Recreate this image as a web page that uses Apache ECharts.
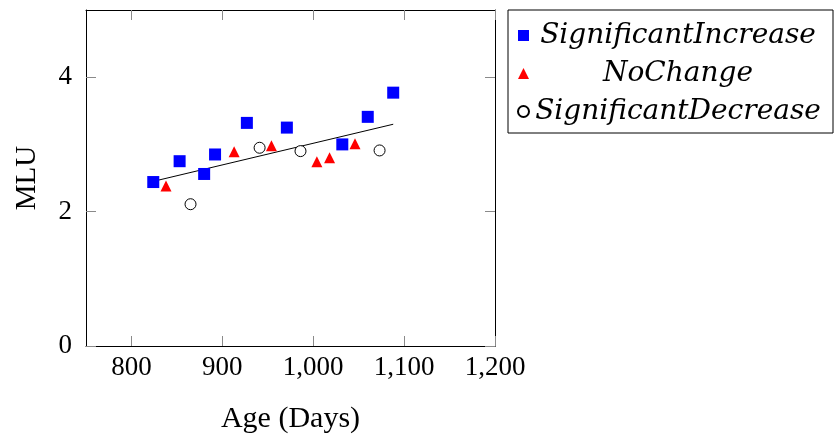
<!DOCTYPE html>
<html>
<head>
<meta charset="utf-8">
<script src="https://cdn.jsdelivr.net/npm/echarts@6/dist/echarts.min.js"></script>
<style>html,body{margin:0;padding:0;background:#fff}#c{width:836px;height:440px}</style>
</head>
<body>
<div id="c"></div>
<script>
const seriesNames = ['SignificantIncrease', 'NoChange', 'SignificantDecrease'];
const increaseData = [[824, 2.44], [853, 2.75], [880, 2.56], [892, 2.85], [927, 3.32], [971, 3.25], [1032, 3.00], [1060, 3.41], [1088, 3.77]];
const noChangeData = [[838, 2.38], [913, 2.89], [954, 2.98], [1004, 2.74], [1018, 2.80], [1046, 3.01]];
const decreaseData = [[865, 2.11], [941, 2.95], [986, 2.90], [1073, 2.91]];
const trendData = [[824, 2.45], [1088, 3.30]];
const xTicks = [800, 900, 1000, 1100, 1200];
const yTicks = [0, 2, 4];
const xName = 'Age (Days)';
const yName = 'MLU';

const font = '"Liberation Serif", serif';
const legendFont = 'DejaVu Serif';
const tickStyle = { show: true, inside: true, length: 10, lineStyle: { color: '#8a8a8a', width: 1 } };
const lineStyle = { show: true, onZero: false, lineStyle: { color: '#000', width: 1 } };

const chart = echarts.init(document.getElementById('c'), null, { renderer: 'canvas' });
chart.setOption({
  animation: false,
  backgroundColor: '#fff',
  grid: { left: 86, right: 341, top: 10, bottom: 94 },
  legend: {
    data: seriesNames,
    orient: 'vertical',
    left: 508,
    top: 10,
    padding: [10, 11, 6, 9],
    itemGap: 7,
    itemWidth: 11,
    itemHeight: 11,
    borderColor: '#000',
    borderWidth: 1,
    formatter: n => '{c|' + n + '}',
    textStyle: {
      fontFamily: legendFont, fontStyle: 'italic', fontSize: 28, lineHeight: 31, color: '#000',
      rich: { c: { width: 288, height: 31, align: 'center', fontFamily: legendFont, fontStyle: 'italic', fontSize: 28, lineHeight: 31, color: '#000' } }
    }
  },
  xAxis: [
    { type: 'value', min: 750, max: 1200, position: 'bottom', name: xName, nameLocation: 'middle', nameGap: 58,
      nameTextStyle: { fontFamily: font, fontSize: 30, color: '#000' },
      axisLine: lineStyle, splitLine: { show: false },
      axisTick: Object.assign({ customValues: xTicks }, tickStyle),
      axisLabel: { customValues: xTicks, margin: 8, fontFamily: font, fontSize: 27, color: '#000', formatter: v => v.toLocaleString('en-US') } },
    { type: 'value', min: 750, max: 1200, position: 'top',
      axisLine: lineStyle, splitLine: { show: false },
      axisTick: Object.assign({ customValues: xTicks }, tickStyle),
      axisLabel: { show: false } }
  ],
  yAxis: [
    { type: 'value', min: 0, max: 5, position: 'left', name: yName, nameLocation: 'middle', nameGap: 44,
      nameTextStyle: { fontFamily: font, fontSize: 29, color: '#000' },
      axisLine: lineStyle, splitLine: { show: false },
      axisTick: Object.assign({ customValues: yTicks }, tickStyle),
      axisLabel: { customValues: yTicks, margin: 14, fontFamily: font, fontSize: 27, color: '#000' } },
    { type: 'value', min: 0, max: 5, position: 'right',
      axisLine: lineStyle, splitLine: { show: false },
      axisTick: Object.assign({ customValues: yTicks }, tickStyle),
      axisLabel: { show: false } }
  ],
  series: [
    { name: seriesNames[0], type: 'scatter', data: increaseData, symbol: 'rect', symbolSize: 12,
      itemStyle: { color: '#0000ff', opacity: 1 }, z: 3 },
    { name: seriesNames[1], type: 'scatter', data: noChangeData, symbol: 'triangle', symbolSize: 11,
      itemStyle: { color: '#ff0000', opacity: 1 }, z: 3 },
    { name: seriesNames[2], type: 'scatter', data: decreaseData, symbol: 'circle', symbolSize: 11,
      itemStyle: { color: '#ffffff', borderColor: '#000', borderWidth: 1, opacity: 1 }, z: 3 },
    { name: 'trend', type: 'line', data: trendData, showSymbol: false, symbol: 'none',
      lineStyle: { color: '#000', width: 1 }, z: 2, silent: true }
  ]
});
</script>
</body>
</html>
